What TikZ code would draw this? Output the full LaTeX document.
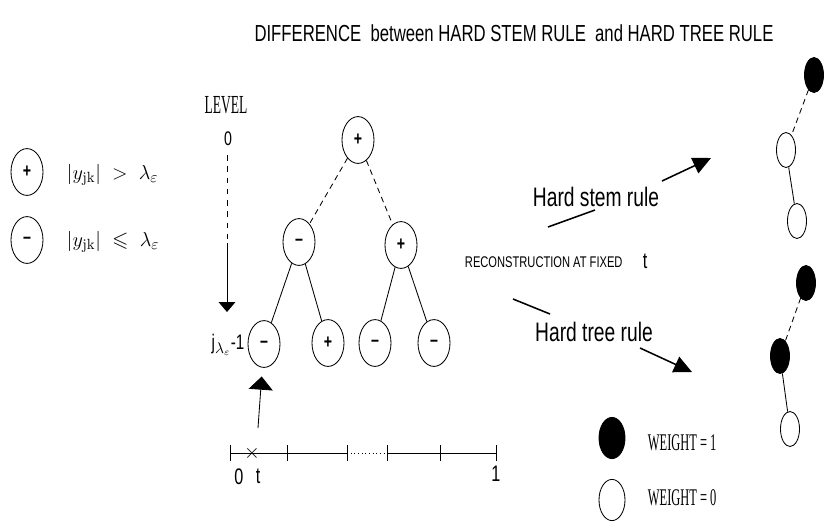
\documentclass[tikz,border=0pt]{standalone}
\usepackage{amsfonts, amssymb, amsmath}
\usepackage{fontspec}
\usepackage{tikz}
\usetikzlibrary{shapes,arrows.meta}
\newfontfamily\condsans{Liberation Sans}[FakeStretch=0.72]
\newfontfamily\condserif{Liberation Serif}[FakeStretch=0.52]
\tikzset{
	sgn/.style={ellipse,draw,line width=0.6pt,minimum width=0.8cm,minimum height=1.17cm,inner sep=0pt,font=\condsans\bfseries\fontsize{14}{16}\selectfont},
	leaf/.style={ellipse,draw,line width=0.6pt,minimum width=0.475cm,minimum height=0.875cm,inner sep=0pt},
	leafb/.style={leaf,fill=black},
	key/.style={ellipse,draw,line width=0.6pt,minimum width=0.65cm,minimum height=1.03cm,inner sep=0pt},
	bigtip/.style={line width=1.1pt,-{Triangle[length=0.45cm,width=0.42cm]}},
}
\begin{document}
\begin{tikzpicture}[x=0.025cm,y=-0.025cm]
		\useasboundingbox (0,0) rectangle (825,529);
		\node[font=\condsans\fontsize{16.5}{19}\selectfont] (title) at (514,33) {DIFFERENCE\ \ between HARD STEM RULE\ \ and HARD TREE RULE};
		%
		\node[sgn] (kp) at (27,172) {+};
		\node[sgn] (km) at (27,240) {\textendash};
		\node[anchor=west,font=\fontsize{15}{18}\selectfont] (kpt) at (62,175) {$|y_{\mathrm{jk}}| \;>\; \lambda_{\varepsilon}$};
		\node[anchor=west,font=\fontsize{15}{18}\selectfont] (kmt) at (62,242) {$|y_{\mathrm{jk}}| \;\leqslant\; \lambda_{\varepsilon}$};
		%
		\node[font=\condserif\fontsize{18.5}{21}\selectfont] (level) at (226,105) {LEVEL};
		\node[font=\condsans\fontsize{14}{16}\selectfont] (l0) at (228,139) {0};
		\node[font=\condsans\fontsize{15}{17}\selectfont] (lj) at (228,345) {j$_{\lambda_{\varepsilon}}$-1};
		\coordinate (lv0) at (227,155);
		\coordinate (lvm) at (227,243);
		\coordinate (lvj) at (227,312);
		\draw[line width=0.6pt,dash pattern=on 4pt off 4pt] (lv0) -- (lvm);
		\draw[line width=0.6pt,-{Triangle[length=0.25cm,width=0.42cm]}] (lvm) -- (lvj);
		%
		\node[sgn] (r) at (358,140) {+};
		\node[sgn] (r1) at (299,242) {\textendash};
		\node[sgn] (r2) at (401,245) {+};
		\node[sgn] (c1) at (264,344) {\textendash};
		\node[sgn] (c2) at (328,343) {+};
		\node[sgn] (c3) at (375,343) {\textendash};
		\node[sgn] (c4) at (434,343) {\textendash};
		\path[line width=0.6pt]
		(r) edge[dash pattern=on 4pt off 3pt] (r1)
		(r) edge[dash pattern=on 4pt off 3pt] (r2)
		(r1) edge (c1)
		(r1) edge (c2)
		(r2) edge (c3)
		(r2) edge (c4);
		%
		\coordinate (tpos) at (258,428);
		\draw[line width=0.6pt,-{Triangle[length=0.33cm,width=0.6cm]},shorten >=0.22cm] (tpos) -- (c1);
		%
		\foreach \x/\n in {230/a,287/b,347/c,387/d,440/e,496/f}
			\coordinate (t\n) at (\x,453);
		\draw[line width=0.6pt] (ta) -- (tc);
		\draw[line width=0.6pt,dotted] (tc) -- (td);
		\draw[line width=0.6pt] (td) -- (tf);
		\foreach \n in {a,b,c,d,e,f}
			\draw[line width=0.6pt] (t\n) ++(0,-8) -- ++(0,16);
		\node[inner sep=0pt,font=\fontsize{15}{17}\selectfont] (tx) at (252,453) {$\times$};
		\node[font=\condsans\fontsize{16}{18}\selectfont] (z0) at (239,477) {0};
		\node[font=\condsans\fontsize{16}{18}\selectfont] (zt) at (258,476) {t};
		\node[font=\condsans\fontsize{16}{18}\selectfont] (z1) at (496,474) {1};
		%
		\node[font=\condsans\fontsize{19}{22}\selectfont] (stem) at (596,197) {Hard stem rule};
		\node[anchor=west,font=\condsans\fontsize{11}{13}\selectfont] (recon) at (460,262) {RECONSTRUCTION AT FIXED};
		\node[font=\condsans\fontsize{16}{18}\selectfont] (rt) at (645,261) {t};
		\node[font=\condsans\fontsize{19}{22}\selectfont] (tree) at (594,332) {Hard tree rule};
		\coordinate (sa) at (548,227);
		\coordinate (sb) at (595,210);
		\coordinate (sc) at (662,181);
		\coordinate (sd) at (711,158);
		\coordinate (ta') at (513,299);
		\coordinate (tb') at (550,314);
		\coordinate (tc') at (640,348);
		\coordinate (td') at (692,372);
		\draw[line width=1.1pt] (sa) -- (sb);
		\draw[bigtip] (sc) -- (sd);
		\draw[line width=1.1pt] (ta') -- (tb');
		\draw[bigtip] (tc') -- (td');
		%
		\node[leafb] (s1a) at (814,75) {};
		\node[leaf] (s1b) at (786,150) {};
		\node[leaf] (s1c) at (797,221) {};
		\node[leafb] (s2a) at (806,283) {};
		\node[leafb] (s2b) at (780,356) {};
		\node[leaf] (s2c) at (790,429) {};
		\path[line width=0.6pt]
		(s1a) edge[dash pattern=on 4pt off 3pt] (s1b)
		(s1b) edge (s1c)
		(s2a) edge[dash pattern=on 4pt off 3pt] (s2b)
		(s2b) edge (s2c);
		%
		\node[key,fill=black] (w1) at (612,438) {};
		\node[key] (w0) at (612,500) {};
		\node[anchor=west,font=\condserif\fontsize{17}{20}\selectfont] (w1t) at (643,443) {WEIGHT = 1};
		\node[anchor=west,font=\condserif\fontsize{17}{20}\selectfont] (w0t) at (643,498) {WEIGHT = 0};
\end{tikzpicture}
\end{document}
